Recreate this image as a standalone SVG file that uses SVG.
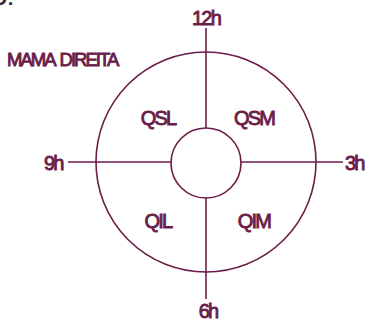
<svg xmlns="http://www.w3.org/2000/svg" width="366" height="321" viewBox="0 0 366 321">
<style>
.ln{fill:none;stroke:#6b1d49;stroke-width:1.6}
.t{font-family:"Liberation Sans",Arial,sans-serif;fill:#6b1d49;stroke:#6b1d49;stroke-width:0.9;font-size:20px;letter-spacing:-1.8px}
.c{text-anchor:middle}
</style>
<rect width="366" height="321" fill="#ffffff"/>
<text x="14" y="5" font-family="Liberation Sans, Arial, sans-serif" font-weight="bold" font-size="20" fill="#3b1f33" text-anchor="end">ÃO:</text>
<g id="connectors">
<line class="ln" x1="206" y1="28" x2="206" y2="128"/>
<line class="ln" x1="206" y1="198" x2="206" y2="299"/>
<line class="ln" x1="68" y1="162" x2="171" y2="162"/>
<line class="ln" x1="241" y1="162" x2="343" y2="162"/>
</g>
<g id="outer"><circle class="ln" cx="206" cy="162" r="110"/></g>
<g id="inner"><circle class="ln" cx="206" cy="163" r="35" fill="#fff"/></g>
<g id="title"><text class="t" x="7" y="66" style="font-size:18.5px;letter-spacing:-2px;word-spacing:3px">MAMA DIREITA</text></g>
<g id="h12"><text class="t c" x="206" y="25">12h</text></g>
<g id="h9"><text class="t" x="44" y="170">9h</text></g>
<g id="h3"><text class="t" x="345" y="170">3h</text></g>
<g id="h6"><text class="t c" x="208" y="318">6h</text></g>
<g id="qsl"><text class="t c" x="158" y="125">QSL</text></g>
<g id="qsm"><text class="t c" x="254" y="125">QSM</text></g>
<g id="qil"><text class="t c" x="158" y="228">QIL</text></g>
<g id="qim"><text class="t c" x="254" y="228">QIM</text></g>
</svg>
